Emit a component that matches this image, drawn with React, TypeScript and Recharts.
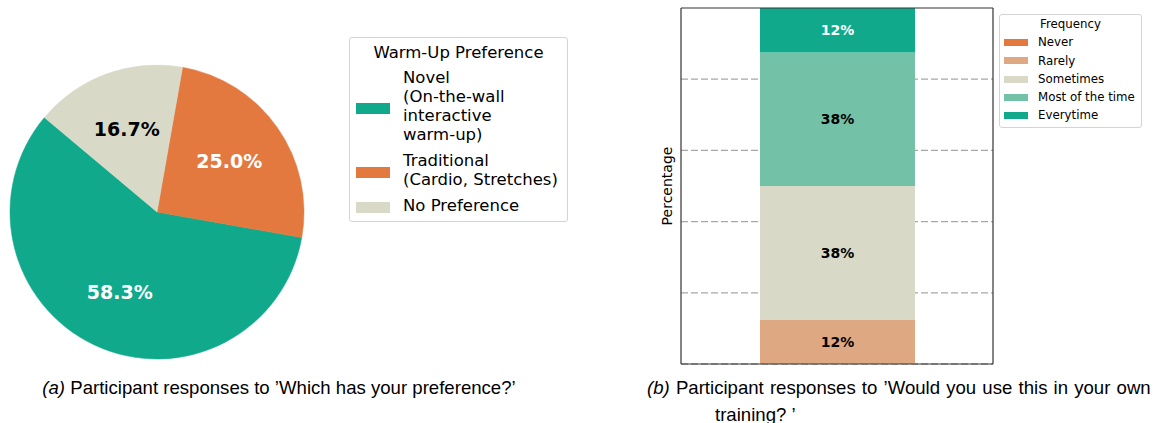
import React from 'react';
import { PieChart, Pie, Cell, Legend, BarChart, Bar, XAxis, YAxis, CartesianGrid, LabelList, Label } from 'recharts';

// warm-up preference (counts out of 12)
const prefNames = ['Novel (On-the-wall interactive warm-up)', 'Traditional (Cardio, Stretches)', 'No Preference'];
const prefLegendLines = [['Novel', '(On-the-wall', 'interactive', 'warm-up)'], ['Traditional', '(Cardio, Stretches)'], ['No Preference']];
const prefCounts = [7, 3, 2];
const prefColors = ['#10a98b', '#e3793f', '#d8dac7'];
const prefLabelColors = ['#ffffff', '#ffffff', '#000000'];

// would you use this in your own training? (percent)
const freqLevels = ['Never', 'Rarely', 'Sometimes', 'Most of the time', 'Everytime'];
const freqPercent = [0, 12.5, 37.5, 37.5, 12.5];
const freqColors = ['#e3793f', '#dea882', '#d8dac7', '#73c2a8', '#10a98b'];
const freqLabelColors = ['#000000', '#000000', '#000000', '#000000', '#ffffff'];
const yTicks = [0, 20, 40, 60, 80, 100];
const gridValues = [0, 20, 40, 60, 80];

const pieData = prefNames.map((name, i) => ({ name, value: prefCounts[i] }));
const barData = [
	{ name: 'Response', ...Object.fromEntries(freqLevels.map((k, i) => [k, freqPercent[i]])) },
];

const chartFont = '"DejaVu Sans", sans-serif';
const captionFont = '"Liberation Sans", Arial, sans-serif';
const RADIAN = Math.PI / 180;

// matplotlib-style "%.0f" (round half to even)
const fmtPct = (v: number) => {
	const f = Math.floor(v);
	const d = v - f;
	const r = d > 0.5 ? f + 1 : d < 0.5 ? f : f % 2 === 0 ? f : f + 1;
	return `${r}%`;
};

const renderPieLabel = (props: any) => {
	const { cx, cy, midAngle, outerRadius, percent, index } = props;
	const r = outerRadius * 0.6;
	const x = cx + r * Math.cos(-midAngle * RADIAN);
	const y = cy + r * Math.sin(-midAngle * RADIAN);
	return (
		<text
			x={x}
			y={y}
			fill={prefLabelColors[index]}
			textAnchor="middle"
			dominantBaseline="central"
			fontFamily={chartFont}
			fontWeight="bold"
			fontSize={19}
		>
			{(percent * 100).toFixed(1)}%
		</text>
	);
};

const barLabel = (color: string) => (props: any) => {
	const { x, y, width, height, value } = props;
	if (!Number(value)) return null;
	return (
		<text
			x={Number(x) + Number(width) / 2}
			y={Number(y) + Number(height) / 2}
			fill={color}
			textAnchor="middle"
			dominantBaseline="central"
			fontFamily={chartFont}
			fontWeight="bold"
			fontSize={14}
		>
			{fmtPct(Number(value))}
		</text>
	);
};

const renderYLabel = (props: any) => {
	const vb = props.viewBox || { x: 641, y: 8, width: 40, height: 356 };
	const x = vb.x + vb.width - 14;
	const y = vb.y + vb.height / 2;
	return (
		<text
			x={x}
			y={y}
			transform={`rotate(-90 ${x} ${y})`}
			textAnchor="middle"
			dominantBaseline="central"
			fontFamily={chartFont}
			fontSize={14}
			fill="#000"
		>
			Percentage
		</text>
	);
};

// y tick labels are hidden in the original, but ticks must exist for the grid
const emptyTick = () => <g />;

const PrefLegend = () => (
	<div
		style={{
			boxSizing: 'border-box',
			width: 219,
			height: 185,
			border: '1px solid #d4d4d4',
			borderRadius: 3,
			background: '#fff',
			fontFamily: chartFont,
			fontSize: 16.5,
			lineHeight: '19px',
			color: '#000',
			padding: '5px 6px 0 6px',
		}}
	>
		<div style={{ textAlign: 'center' }}>Warm-Up Preference</div>
		{prefLegendLines.map((lines, i) => (
			<div key={i} style={{ display: 'flex', alignItems: 'center', marginTop: i === 0 ? 6 : 7 }}>
				<div style={{ width: 34, height: 11, background: prefColors[i], marginRight: 13, marginTop: 4, flexShrink: 0 }} />
				<div>
					{lines.map((l, j) => (
						<div key={j} style={{ whiteSpace: 'nowrap' }}>{l}</div>
					))}
				</div>
			</div>
		))}
	</div>
);

const FreqLegend = () => (
	<div
		style={{
			boxSizing: 'border-box',
			width: 143,
			height: 114,
			border: '1px solid #d4d4d4',
			borderRadius: 3,
			background: '#fff',
			fontFamily: chartFont,
			fontSize: 11.8,
			lineHeight: '18.3px',
			color: '#000',
			padding: '0 4px',
		}}
	>
		<div style={{ textAlign: 'center' }}>Frequency</div>
		{freqLevels.map((name, i) => (
			<div key={name} style={{ display: 'flex', alignItems: 'center' }}>
				<div style={{ width: 24, height: 7, background: freqColors[i], marginRight: 10, flexShrink: 0 }} />
				<div style={{ whiteSpace: 'nowrap' }}>{name}</div>
			</div>
		))}
	</div>
);

const App = () => {
	return (
		<div style={{ position: 'absolute', left: 0, top: 0, width: 1158, height: 423, background: '#fff' }}>
			<div style={{ position: 'absolute', left: 0, top: 0 }}>
				<PieChart width={580} height={370} margin={{ top: 0, right: 0, bottom: 0, left: 0 }}>
					<Pie
						data={pieData}
						dataKey="value"
						nameKey="name"
						cx={157}
						cy={212}
						outerRadius={147}
						startAngle={140}
						endAngle={500}
						label={renderPieLabel}
						labelLine={false}
						isAnimationActive={false}
					>
						{pieData.map((d, i) => (
							<Cell key={d.name} fill={prefColors[i]} stroke={prefColors[i]} strokeWidth={0.5} />
						))}
					</Pie>
					<Legend
						layout="vertical"
						align="center"
						verticalAlign="middle"
						wrapperStyle={{ left: 349, top: 37, width: 219 }}
						content={() => <PrefLegend />}
					/>
				</PieChart>
			</div>

			<div style={{ position: 'absolute', left: 640, top: 0 }}>
				<BarChart width={518} height={380} data={barData} margin={{ top: 7, right: 164, bottom: 15, left: 1 }}>
					<CartesianGrid
						vertical={false}
						horizontalValues={gridValues}
						stroke="#a8a8a8"
						strokeWidth={1.3}
						strokeDasharray="7 3"
					/>
					<XAxis dataKey="name" tick={false} tickLine={false} height={1} stroke="#333" strokeWidth={1.2} />
					<XAxis xAxisId="top" orientation="top" dataKey="name" tick={false} tickLine={false} height={1} stroke="#333" strokeWidth={1.2} />
					<YAxis domain={[0, 100]} ticks={yTicks} interval={0} tick={emptyTick} tickLine={false} width={40} stroke="#333" strokeWidth={1.2}>
						<Label content={renderYLabel} />
					</YAxis>
					<YAxis yAxisId="right" orientation="right" domain={[0, 100]} ticks={yTicks} tick={false} tickLine={false} width={1} stroke="#333" strokeWidth={1.2} />
					{freqLevels.map((k, i) => (
						<Bar
							key={k}
							dataKey={k}
							stackId="a"
							fill={freqColors[i]}
							barSize={155}
							isAnimationActive={false}
						>
							<LabelList dataKey={k} content={barLabel(freqLabelColors[i])} />
						</Bar>
					))}
					<Legend
						layout="vertical"
						align="center"
						verticalAlign="middle"
						wrapperStyle={{ left: 359, top: 14, width: 143 }}
						content={() => <FreqLegend />}
					/>
				</BarChart>
			</div>

			<div style={{ position: 'absolute', left: 0, width: 558, top: 377, textAlign: 'center', fontFamily: captionFont, fontSize: 18.6, lineHeight: '22px', color: '#000', whiteSpace: 'nowrap' }}>
				<i>(a)</i> Participant responses to ’Which has your preference?’
			</div>
			<div style={{ position: 'absolute', left: 647, top: 377, fontFamily: captionFont, fontSize: 18.6, lineHeight: '22px', color: '#000', whiteSpace: 'nowrap', wordSpacing: 1 }}>
				<div><i>(b)</i> Participant responses to ’Would you use this in your own</div>
				<div style={{ paddingLeft: 68, marginTop: 5, wordSpacing: 0 }}>training? ’</div>
			</div>
		</div>
	);
};

export default App;
